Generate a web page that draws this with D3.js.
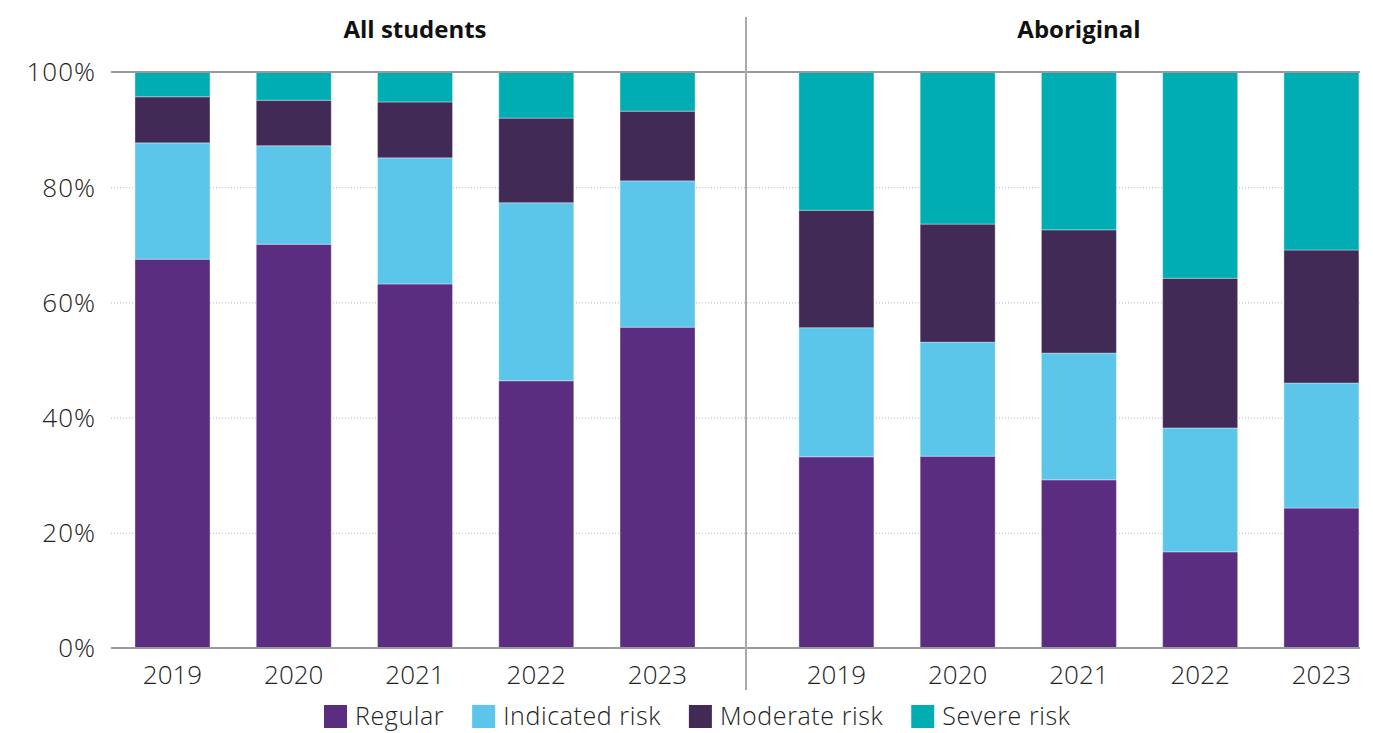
<!DOCTYPE html>
<html>
<head>
<meta charset="utf-8">
<script src="https://cdn.jsdelivr.net/npm/d3@7"></script>
<style>
  body { margin: 0; background: #fff; }
  svg text { font-family: "Open Sans", "Noto Sans", sans-serif; }
</style>
</head>
<body>
<div id="chart"></div>
<script>
// Data
var years = ["2019", "2020", "2021", "2022", "2023"];
var groups = ["All students", "Aboriginal"];
var categories = ["Regular", "Indicated risk", "Moderate risk", "Severe risk"];
var colors = ["#5a2d81", "#5bc6e9", "#412a55", "#00adb3"];
// percentages per year, one array per category
var allRegular   = [67.5, 70.1, 63.2, 46.4, 55.7];
var allIndicated = [20.2, 17.1, 21.9, 30.9, 25.4];
var allModerate  = [8.0, 7.9, 9.7, 14.7, 12.1];
var allSevere    = [4.3, 4.9, 5.2, 8.0, 6.8];
var abRegular    = [33.2, 33.3, 29.2, 16.7, 24.3];
var abIndicated  = [22.4, 19.8, 22.0, 21.5, 21.7];
var abModerate   = [20.4, 20.5, 21.4, 26.0, 23.1];
var abSevere     = [24.0, 26.4, 27.4, 35.8, 30.9];
var yTicks = [0, 20, 40, 60, 80, 100];

var width = 1373, height = 733;
var plotTop = 72, plotBottom = 648;
var plotLeft = 111, plotRight = 1360, divider = 746;

var svg = d3.select("#chart").append("svg")
    .attr("width", width)
    .attr("height", height);

var y = d3.scaleLinear().domain([0, 100]).range([plotBottom, plotTop]);

// Gridlines (dotted)
svg.append("g").selectAll("line")
    .data(yTicks.filter(function(d) { return d > 0 && d < 100; }))
    .enter().append("line")
    .attr("x1", plotLeft).attr("x2", plotRight)
    .attr("y1", function(d) { return y(d) + 0.5; })
    .attr("y2", function(d) { return y(d) + 0.5; })
    .attr("stroke", "#b5b5b5")
    .attr("stroke-width", 1)
    .attr("stroke-dasharray", "1,2");

// Y axis labels
svg.append("g").selectAll("text")
    .data(yTicks)
    .enter().append("text")
    .attr("x", 96)
    .attr("y", function(d) { return y(d); })
    .attr("dy", "0.36em")
    .attr("text-anchor", "end")
    .style("font-size", "26px")
    .style("font-weight", "300")
    .style("letter-spacing", "1px")
    .style("fill", "#222")
    .text(function(d) { return d + "%"; });

// Panels
var panels = [
    { name: groups[0], x0: plotLeft, x1: divider, outer: 0.309, align: 0.32, titleX: 415,
      series: [allRegular, allIndicated, allModerate, allSevere] },
    { name: groups[1], x0: divider, x1: plotRight, outer: 0.2226, align: 0.98, titleX: 1079,
      series: [abRegular, abIndicated, abModerate, abSevere] }
];

panels.forEach(function(p) {
    var x = d3.scaleBand()
        .domain(years)
        .range([p.x0, p.x1])
        .paddingInner(0.3814)
        .paddingOuter(p.outer)
        .align(p.align);

    // rows for stacking
    var rows = years.map(function(yr, i) {
        var r = { year: yr };
        categories.forEach(function(c, j) { r[c] = p.series[j][i]; });
        return r;
    });
    var stacked = d3.stack().keys(categories)(rows);

    var g = svg.append("g");
    g.selectAll("g")
        .data(stacked)
        .enter().append("g")
        .attr("fill", function(d, i) { return colors[i]; })
        .selectAll("rect")
        .data(function(d) { return d; })
        .enter().append("rect")
        .attr("x", function(d) { return x(d.data.year); })
        .attr("y", function(d) { return y(d[1]); })
        .attr("width", x.bandwidth())
        .attr("height", function(d) { return y(d[0]) - y(d[1]); })
        .attr("stroke", "rgba(255,255,255,0.35)")
        .attr("stroke-width", 1);

    // x labels
    g.selectAll("text.year")
        .data(years)
        .enter().append("text")
        .attr("class", "year")
        .attr("x", function(d) { return x(d) + x.bandwidth() / 2; })
        .attr("y", 684)
        .attr("text-anchor", "middle")
        .style("font-size", "26px")
        .style("font-weight", "300")
        .style("fill", "#222")
        .text(function(d) { return d; });

    // panel title
    svg.append("text")
        .attr("x", p.titleX)
        .attr("y", 38)
        .attr("text-anchor", "middle")
        .style("font-size", "24px")
        .style("font-weight", "700")
        .style("fill", "#111")
        .text(p.name);
});

// Top and bottom axis lines
[plotTop, plotBottom].forEach(function(v) {
    svg.append("line")
        .attr("x1", plotLeft).attr("x2", plotRight)
        .attr("y1", v).attr("y2", v)
        .attr("stroke", "#9a999e")
        .attr("stroke-width", 2);
});

// Divider
svg.append("line")
    .attr("x1", divider).attr("x2", divider)
    .attr("y1", 17).attr("y2", 690)
    .attr("stroke", "#aaa")
    .attr("stroke-width", 2);

// Legend
var legend = svg.append("g");
var lx = 324;
categories.forEach(function(c, i) {
    legend.append("rect")
        .attr("x", lx).attr("y", 705)
        .attr("width", 23).attr("height", 23)
        .attr("fill", colors[i]);
    var t = legend.append("text")
        .attr("x", lx + 31)
        .attr("y", 725)
        .style("font-size", "25px")
        .style("font-weight", "300")
        .style("letter-spacing", "0.6px")
        .style("fill", "#222")
        .text(c);
    lx += 31 + t.node().getComputedTextLength() + 28;
});
</script>
</body>
</html>
